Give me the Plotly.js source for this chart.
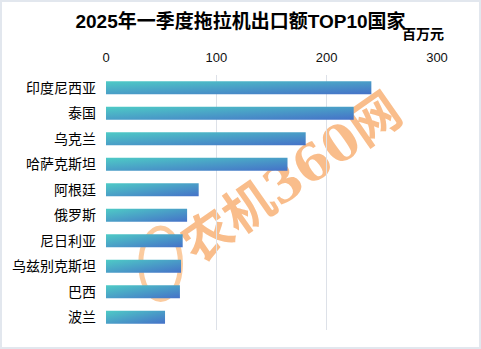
<!DOCTYPE html>
<html><head><meta charset="utf-8">
<script src="https://cdn.plot.ly/plotly-3.0.1.min.js"></script>
<style>
html,body{margin:0;padding:0;background:#fff;}
#wrap{width:481px;height:349px;box-sizing:border-box;border:2px solid #e2e7ee;overflow:hidden;position:relative;}
#chart{position:absolute;left:-2px;top:-2px;width:481px;height:349px;}
</style></head>
<body><div id="wrap"><div id="chart"></div></div>
<script>
const countries = ['印度尼西亚','泰国','乌克兰','哈萨克斯坦','阿根廷','俄罗斯','尼日利亚','乌兹别克斯坦','巴西','波兰'];
const values = [240.5, 224.5, 181, 164.5, 84, 73.5, 69.5, 68, 67, 53.5];
const xTicks = [0, 100, 200, 300];
const titleText = '2025年一季度拖拉机出口额TOP10国家';
const unitText = '百万元';
const watermark = '农机360网';

const cjk = '"Liberation Sans", "Noto Sans CJK SC", sans-serif';
const trace = {
  type: 'bar', orientation: 'h',
  x: values, y: countries,
  marker: {color: '#48a8c8', line: {width: 0}},
  hoverinfo: 'x+y'
};
const layout = {
  width: 481, height: 349,
  margin: {l: 105.5, r: 43.5, t: 75, b: 19, pad: 0},
  paper_bgcolor: '#ffffff', plot_bgcolor: 'rgba(0,0,0,0)',
  showlegend: false,
  bargap: 0.49,
  font: {family: cjk, color: '#000'},
  title: {text: '<b>' + titleText + '</b>', x: 0.5, xanchor: 'center', y: 0.94, yanchor: 'middle',
          font: {size: 19, family: cjk, color: '#000'}},
  xaxis: {side: 'top', range: [0, 300], tickvals: xTicks, ticktext: xTicks.map(String),
          showgrid: true, gridcolor: '#dde1e8', gridwidth: 1, zeroline: false,
          showline: false, ticks: '', tickfont: {size: 13, color: '#111', family: cjk},
          ticklabelstandoff: 9, fixedrange: true},
  yaxis: {autorange: 'reversed', showgrid: false, zeroline: false, showline: false,
          ticks: '', ticklabelstandoff: 9, tickfont: {size: 14, color: '#000', family: cjk}, fixedrange: true},
  annotations: [
    {text: '<b>' + unitText + '</b>', xref: 'paper', yref: 'paper', x: 1.027, y: 1.16,
     xanchor: 'right', yanchor: 'middle', showarrow: false, font: {size: 14, color: '#000', family: cjk}},
    {text: '<b>' + watermark + '</b>', xref: 'paper', yref: 'paper', x: 0.56, y: 0.6,
     xanchor: 'center', yanchor: 'middle', showarrow: false, textangle: -35, opacity: 0.75,
     font: {size: 50, color: '#f8a865', family: '"DejaVu Serif", "Noto Sans CJK SC", serif'}}
  ],
  shapes: [
    {type: 'circle', xref: 'paper', yref: 'paper', layer: 'below',
     x0: 0.105, x1: 0.225, y0: 0.12, y1: 0.40,
     line: {color: 'rgba(248,168,95,0.6)', width: 5}}
  ]
};
Plotly.newPlot('chart', [trace], layout, {displayModeBar: false, staticPlot: true}).then(function(gd){
  const svg = gd.querySelector('svg.main-svg');
  const ns = 'http://www.w3.org/2000/svg';
  let defs = svg.querySelector('defs');
  const g = document.createElementNS(ns, 'linearGradient');
  g.setAttribute('id', 'barGrad');
  g.setAttribute('x1', '0'); g.setAttribute('y1', '0');
  g.setAttribute('x2', '1'); g.setAttribute('y2', '1');
  [['0', '#4ecbc6'], ['1', '#4571c8']].forEach(function(s){
    const st = document.createElementNS(ns, 'stop');
    st.setAttribute('offset', s[0]); st.setAttribute('stop-color', s[1]);
    g.appendChild(st);
  });
  defs.appendChild(g);
  gd.querySelectorAll('.bars .point path').forEach(function(p){
    p.style.fill = 'url(#barGrad)';
    p.style.fillOpacity = 1;
  });
  // place the watermark behind the bars
  const anns = gd.querySelectorAll('.annotation');
  const cart = svg.querySelector('.cartesianlayer');
  anns.forEach(function(a){
    if (a.textContent.indexOf('360') >= 0) {
      svg.insertBefore(a, cart);
    }
  });
});
</script></body></html>
